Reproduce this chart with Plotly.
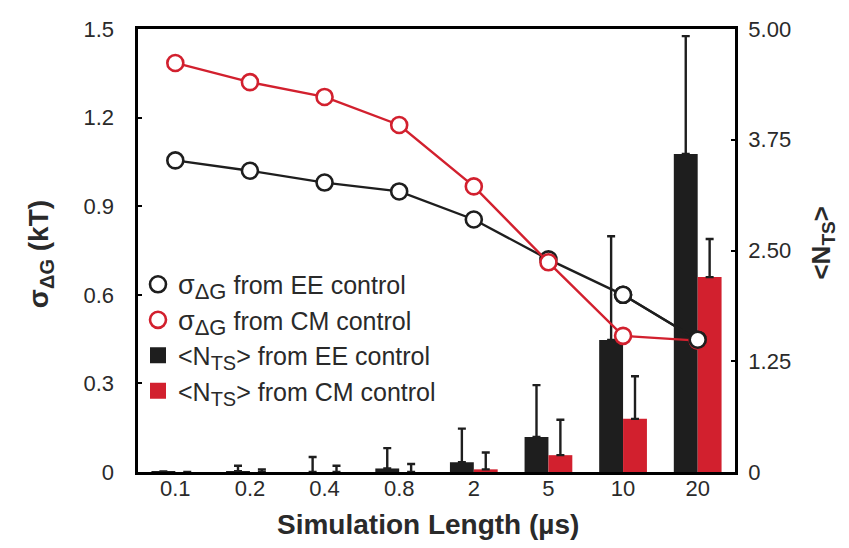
import plotly.graph_objects as go

categories = ["0.1", "0.2", "0.4", "0.8", "2", "5", "10", "20"]

# sigma_dG (kT), left axis
sigma_ee = [1.055, 1.02, 0.98, 0.95, 0.855, 0.72, 0.60, 0.448]
sigma_cm = [1.385, 1.32, 1.27, 1.175, 0.967, 0.71, 0.461, 0.445]

# <N_TS>, right axis
nts_ee = [0.005, 0.01, 0.0, 0.04, 0.11, 0.395, 1.49, 3.59]
nts_ee_err = [0.0, 0.06, 0.17, 0.23, 0.38, 0.585, 1.17, 1.33]
nts_cm = [0.0, 0.0, 0.0, 0.0, 0.03, 0.19, 0.60, 2.20]
nts_cm_err = [0.0, 0.03, 0.07, 0.09, 0.19, 0.40, 0.48, 0.43]

BLACK = "#1e1e1e"
RED = "#d2202e"
TXT = "#2a2a2a"
FONT = "Liberation Sans, Arial, sans-serif"

SUBL = '<sub><span style="font-size:20px">{}</span></sub>'

fig = go.Figure()

fig.add_trace(go.Bar(
    x=categories, y=nts_ee, name="EE",
    marker=dict(color=BLACK, line=dict(width=0)),
    error_y=dict(type="data", array=nts_ee_err, arrayminus=[0]*8, symmetric=False,
                 color=BLACK, thickness=2.4, width=4),
    yaxis="y", showlegend=False,
))
fig.add_trace(go.Bar(
    x=categories, y=nts_cm, name="CM",
    marker=dict(color=RED, line=dict(width=0)),
    error_y=dict(type="data", array=nts_cm_err, arrayminus=[0]*8, symmetric=False,
                 color=BLACK, thickness=2.4, width=4),
    yaxis="y", showlegend=False,
))

circle_ee = dict(symbol="circle", size=16, color="white", line=dict(color=BLACK, width=2.6))
circle_cm = dict(symbol="circle", size=16, color="white", line=dict(color=RED, width=2.6))

fig.add_trace(go.Scatter(
    x=categories, y=sigma_ee, mode="lines+markers", yaxis="y2", showlegend=False,
    line=dict(color=BLACK, width=2.4), marker=circle_ee,
))
fig.add_trace(go.Scatter(
    x=categories, y=sigma_cm, mode="lines+markers", yaxis="y2", showlegend=False,
    line=dict(color=RED, width=2.4), marker=circle_cm,
))
fig.add_trace(go.Scatter(
    x=categories[-2:], y=sigma_ee[-2:], mode="lines+markers", yaxis="y2", showlegend=False,
    line=dict(color=BLACK, width=2.4), marker=circle_ee, hoverinfo="skip",
))

# legend entries
SIG = '<span style="font-size:27px">σ</span>' + '<sub><span style="font-size:22px">ΔG</span></sub>'
fig.add_trace(go.Scatter(x=[None], y=[None], mode="markers", yaxis="y2",
                         name=SIG + " from EE control", marker=circle_ee))
fig.add_trace(go.Scatter(x=[None], y=[None], mode="markers", yaxis="y2",
                         name=SIG + " from CM control", marker=circle_cm))
fig.add_trace(go.Scatter(x=[None], y=[None], mode="markers", yaxis="y2",
                         name="&lt;N" + SUBL.format("TS") + "&gt; from EE control",
                         marker=dict(symbol="square", size=17, color=BLACK)))
fig.add_trace(go.Scatter(x=[None], y=[None], mode="markers", yaxis="y2",
                         name="&lt;N" + SUBL.format("TS") + "&gt; from CM control",
                         marker=dict(symbol="square", size=17, color=RED)))

fig.update_layout(
    width=849, height=548,
    margin=dict(l=130, r=122, t=21, b=84),
    paper_bgcolor="white", plot_bgcolor="white",
    font=dict(family=FONT, size=20, color=TXT),
    barmode="group", bargap=0.36, bargroupgap=0,
    showlegend=True,
    legend=dict(
        x=0.0, y=0.475, xanchor="left", yanchor="top",
        bgcolor="rgba(0,0,0,0)", font=dict(size=25, family=FONT, color=TXT),
        tracegroupgap=0, itemwidth=30,
    ),
    xaxis=dict(
        type="category", range=[-0.5, 7.5], automargin=False,
        showline=True, mirror=True, linecolor="black", linewidth=2.8,
        showgrid=False, zeroline=False, ticks="",
        ticklabelstandoff=-5,
        tickfont=dict(size=22, family=FONT, color=TXT),
    ),
    yaxis=dict(
        side="right", range=[0, 5.0], automargin=False,
        tickvals=[0, 1.25, 2.5, 3.75, 5.0], ticktext=["0", "1.25", "2.50", "3.75", "5.00"],
        showline=True, mirror=True, linecolor="black", linewidth=2.8,
        showgrid=False, zeroline=False, ticks="inside", ticklen=4, tickwidth=2, tickcolor="black",
        ticklabelstandoff=6,
        tickfont=dict(size=22, family=FONT, color=TXT),
    ),
    yaxis2=dict(
        overlaying="y", side="left", range=[0, 1.5], automargin=False,
        tickvals=[0, 0.3, 0.6, 0.9, 1.2, 1.5], ticktext=["0", "0.3", "0.6", "0.9", "1.2", "1.5"],
        showline=False, showgrid=False, zeroline=False,
        ticks="inside", ticklen=4, tickwidth=2, tickcolor="black",
        ticklabelstandoff=23,
        tickfont=dict(size=22, family=FONT, color=TXT),
    ),
    annotations=[
        dict(text="<b>Simulation Length (µs)</b>", xref="paper", yref="paper",
             x=0.486, y=-0.118, xanchor="center", yanchor="middle", showarrow=False,
             font=dict(size=28, family=FONT, color=TXT)),
        dict(text='<b>σ<sub><span style="font-size:20px">ΔG</span></sub> (kT)</b>', xref="paper", yref="paper",
             x=-0.164, y=0.492, xanchor="center", yanchor="middle", showarrow=False, textangle=-90,
             font=dict(size=28, family=FONT, color=TXT)),
        dict(text='<b>&lt;N<sub><span style="font-size:19px">TS</span></sub>&gt;</b>', xref="paper", yref="paper",
             x=1.146, y=0.516, xanchor="center", yanchor="middle", showarrow=False, textangle=-90,
             font=dict(size=26, family=FONT, color=TXT)),
    ],
)

fig.write_html("out.html")
